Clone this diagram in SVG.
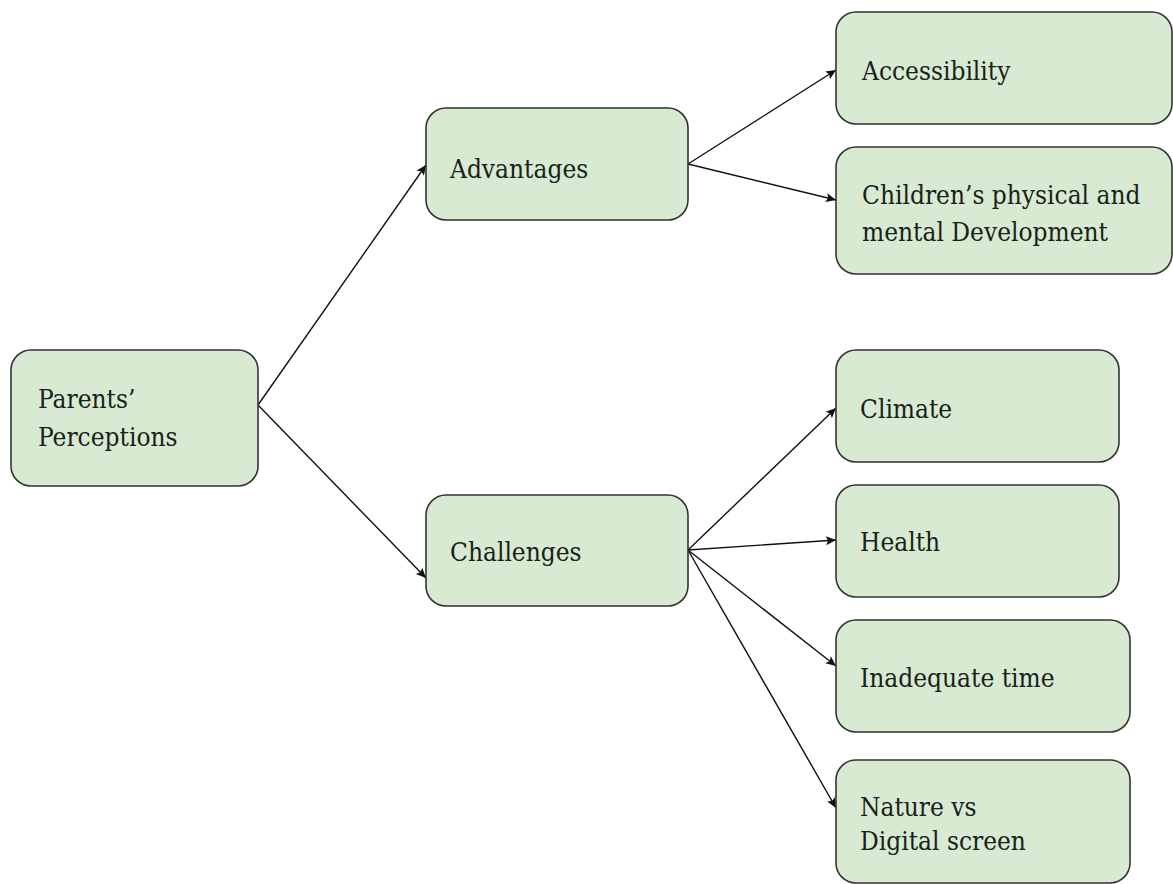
<svg xmlns="http://www.w3.org/2000/svg" width="1173" height="884" viewBox="0 0 1173 884">
<style>
.box{fill:#d9ead3;stroke:#333;stroke-width:1.6}
text{font-family:'DejaVu Serif Condensed','DejaVu Serif',serif;font-stretch:condensed;font-size:26px;fill:#17221a}
.c{stroke:#111;stroke-width:1.4;fill:none;marker-end:url(#ah)}
</style>
<defs>
<marker id="ah" viewBox="0 0 10 10" refX="10" refY="5" markerWidth="12" markerHeight="10" markerUnits="userSpaceOnUse" orient="auto"><path d="M0,0.5 L10,5 L0,9.5 L2,5 Z" fill="#111"/></marker>
</defs>
<rect width="1173" height="884" fill="#fff"/>
<g id="connectors">
<line class="c" x1="258" y1="405" x2="426" y2="165"/>
<line class="c" x1="258" y1="405" x2="426" y2="578"/>
<line class="c" x1="688" y1="164" x2="836" y2="70"/>
<line class="c" x1="688" y1="164" x2="836" y2="200"/>
<line class="c" x1="688" y1="550" x2="836" y2="408"/>
<line class="c" x1="688" y1="550" x2="836" y2="540"/>
<line class="c" x1="688" y1="550" x2="836" y2="666"/>
<line class="c" x1="688" y1="550" x2="836" y2="808"/>
</g>
<g id="parents">
<rect class="box" x="11" y="350" width="247" height="136" rx="20"/>
<text x="38" y="408">Parents’</text>
<text x="38" y="446">Perceptions</text>
</g>
<g id="advantages">
<rect class="box" x="426" y="108" width="262" height="112" rx="20"/>
<text x="450" y="178">Advantages</text>
</g>
<g id="challenges">
<rect class="box" x="426" y="495" width="262" height="111" rx="20"/>
<text x="450" y="561">Challenges</text>
</g>
<g id="accessibility">
<rect class="box" x="836" y="12" width="336" height="112" rx="20"/>
<text x="862" y="80">Accessibility</text>
</g>
<g id="development">
<rect class="box" x="836" y="147" width="336" height="127" rx="20"/>
<text x="862" y="204">Children’s physical and</text>
<text x="862" y="241">mental Development</text>
</g>
<g id="climate">
<rect class="box" x="836" y="350" width="283" height="112" rx="20"/>
<text x="860" y="418">Climate</text>
</g>
<g id="health">
<rect class="box" x="836" y="485" width="283" height="112" rx="20"/>
<text x="860" y="551">Health</text>
</g>
<g id="time">
<rect class="box" x="836" y="620" width="294" height="112" rx="20"/>
<text x="860" y="687">Inadequate time</text>
</g>
<g id="nature">
<rect class="box" x="836" y="760" width="294" height="123" rx="20"/>
<text x="860" y="816">Nature vs</text>
<text x="860" y="850">Digital screen</text>
</g>
</svg>
